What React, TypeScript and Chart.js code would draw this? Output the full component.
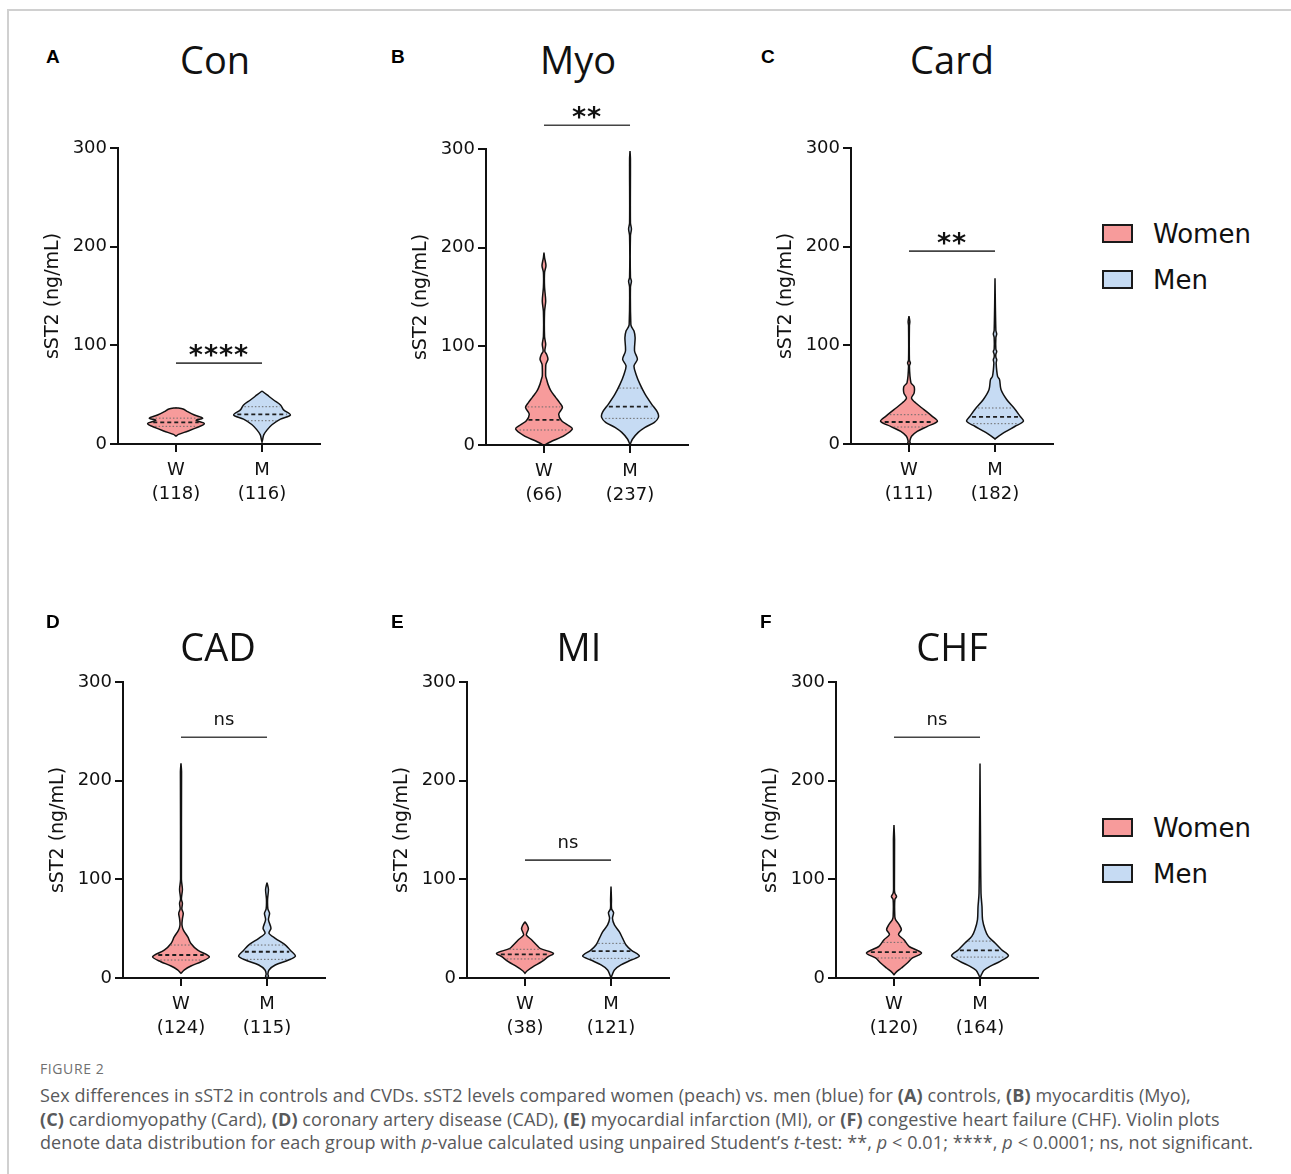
import React, { useEffect, useRef } from 'react';
import { Chart, registerables } from 'chart.js';

Chart.register(...registerables);

// ---------------- data ----------------
const groupLabels = ['W', 'M'];
const legendLabels = ['Women', 'Men'];
const panelLetters = ['A', 'B', 'C', 'D', 'E', 'F'];
const panelTitles = ['Con', 'Myo', 'Card', 'CAD', 'MI', 'CHF'];
const womenN = [118, 66, 111, 124, 38, 120];
const menN = [116, 237, 182, 115, 121, 164];
const sigText = ['****', '**', '**', 'ns', 'ns', 'ns'];
const sigLevel = [82, 324, 195.5, 244, 119.5, 244];
const yTickValues = [0, 100, 200, 300];

// violin profiles: sST2 level (ng/mL) from top to bottom, relative half-width, quartiles [Q3, median, Q1]
const conWomenY = [36.8, 35.5, 32.8, 29.4, 26.2, 24.0, 20.6, 16.3, 13.0, 9.7, 8.0];
const conWomenW = [0, 0.25, 0.41, 0.65, 0.94, 0.71, 1.0, 0.71, 0.41, 0.09, 0];
const conWomenQ = [26.2, 21.9, 17.9];
const conMenY = [53.7, 49.7, 44.6, 39.6, 34.6, 29.4, 25.2, 19.5, 14.3, 9.3, 4.2, 2];
const conMenW = [0, 0.18, 0.41, 0.65, 0.76, 1.0, 0.65, 0.35, 0.18, 0.06, 0.02, 0];
const conMenQ = [37.8, 30.1, 23.6];

const myoWomenY = [195, 190, 181.6, 175, 160, 146, 135, 110, 102, 95, 92, 87, 82, 78.6, 70, 66.8, 61.7, 55, 48.3, 43, 38, 31.4, 24.6, 20, 16.2, 9.5, 4, 0.7, 0];
const myoWomenW = [0, 0.02, 0.07, 0.02, 0.02, 0.06, 0.02, 0.02, 0.06, 0.03, 0.09, 0.14, 0.07, 0.06, 0.06, 0.09, 0.14, 0.24, 0.41, 0.55, 0.65, 0.52, 0.62, 0.85, 1.0, 0.71, 0.29, 0.06, 0];
const myoWomenQ = [38.6, 25.4, 15.2];
const myoMenY = [298, 290, 225, 219, 212, 170, 166, 160, 122, 118.9, 115.5, 108.8, 95.3, 87, 80.2, 71.8, 61.7, 51.6, 41.5, 33.1, 28, 23, 17.9, 12.8, 6.1, 1.7, 0];
const myoMenW = [0, 0.015, 0.015, 0.05, 0.015, 0.015, 0.05, 0.015, 0.03, 0.07, 0.14, 0.18, 0.16, 0.26, 0.14, 0.21, 0.35, 0.53, 0.76, 0.97, 1.0, 0.86, 0.53, 0.29, 0.09, 0.02, 0];
const myoMenQ = [57.7, 38.8, 27.0];

const cardWomenY = [129.7, 124, 120, 85, 82, 79, 62, 58.3, 51.6, 46.6, 41.5, 34.8, 28, 23, 17.9, 12.8, 7.8, 3, 1, 0];
const cardWomenW = [0, 0.03, 0.015, 0.015, 0.05, 0.015, 0.07, 0.18, 0.18, 0.09, 0.24, 0.53, 0.82, 1.0, 0.65, 0.29, 0.09, 0.03, 0.04, 0];
const cardWomenQ = [29.7, 22.3, 17.2];
const cardMenY = [168, 115, 111.5, 108, 96, 93.8, 91, 88, 85.4, 82, 68.6, 65.3, 55.2, 45.1, 35, 28.2, 23.1, 18, 13, 7.8, 5];
const cardMenW = [0, 0.03, 0.06, 0.03, 0.03, 0.06, 0.03, 0.03, 0.06, 0.04, 0.09, 0.16, 0.21, 0.41, 0.71, 0.88, 1.0, 0.71, 0.41, 0.12, 0];
const cardMenQ = [36.5, 27.4, 20.6];

const cadWomenY = [217.5, 209, 100, 89.8, 80, 75.7, 70, 65.6, 60, 53.7, 48.3, 41.6, 35, 28.2, 21.5, 16.5, 12.2, 8.2, 4.8];
const cadWomenW = [0, 0.02, 0.015, 0.05, 0.015, 0.05, 0.03, 0.08, 0.05, 0.035, 0.09, 0.24, 0.35, 0.59, 1.0, 0.71, 0.35, 0.12, 0];
const cadWomenQ = [33.4, 23.3, 18.2];
const cadMenY = [96.6, 89.8, 80, 70, 65.6, 59, 50.5, 45.3, 40.2, 33.4, 28.2, 22.2, 18.2, 13.2, 8.2, 4, 1.5, 0];
const cadMenW = [0, 0.05, 0.02, 0.03, 0.09, 0.05, 0.14, 0.07, 0.29, 0.65, 0.82, 1.0, 0.76, 0.29, 0.07, 0.03, 0.05, 0];
const cadMenQ = [33.4, 26.6, 18.9];

const miWomenY = [57, 53, 49.6, 46, 43.5, 38.5, 33.4, 30, 25, 21.6, 16.5, 11.5, 7.1, 4.8];
const miWomenW = [0, 0.09, 0.12, 0.07, 0.05, 0.24, 0.41, 0.53, 1.0, 0.82, 0.59, 0.29, 0.07, 0];
const miWomenQ = [29.1, 24.0, 19.3];
const miMenY = [92.6, 80, 70, 66.2, 60.5, 53.8, 47, 40.2, 33.4, 28.3, 22.2, 18.2, 13.2, 8.2, 3.1, 0];
const miMenW = [0, 0.015, 0.02, 0.09, 0.05, 0.12, 0.29, 0.41, 0.53, 0.71, 1.0, 0.71, 0.35, 0.12, 0.04, 0];
const miMenQ = [35.1, 27.3, 19.9];

const chfWomenY = [155, 140, 90, 86, 82.7, 79.3, 62, 59, 54.1, 49, 44, 38.8, 32.1, 25.3, 20.3, 15.2, 10.1, 5.7, 3.4];
const chfWomenW = [0, 0.02, 0.015, 0.03, 0.09, 0.03, 0.03, 0.06, 0.18, 0.26, 0.16, 0.35, 0.53, 0.97, 0.65, 0.47, 0.26, 0.07, 0];
const chfWomenQ = [36.1, 26.3, 20.3];
const chfMenY = [217.5, 150, 86, 72.3, 59, 49, 42.2, 35.4, 28.7, 22.7, 16.9, 11.8, 7.8, 3.4, 0];
const chfMenW = [0, 0.015, 0.035, 0.07, 0.09, 0.18, 0.29, 0.53, 0.76, 1.0, 0.71, 0.35, 0.14, 0.05, 0];
const chfMenQ = [37.4, 28.0, 21.2];

const violins = [
  [[conWomenY, conWomenW, conWomenQ], [conMenY, conMenW, conMenQ]],
  [[myoWomenY, myoWomenW, myoWomenQ], [myoMenY, myoMenW, myoMenQ]],
  [[cardWomenY, cardWomenW, cardWomenQ], [cardMenY, cardMenW, cardMenQ]],
  [[cadWomenY, cadWomenW, cadWomenQ], [cadMenY, cadMenW, cadMenQ]],
  [[miWomenY, miWomenW, miWomenQ], [miMenY, miMenW, miMenQ]],
  [[chfWomenY, chfWomenW, chfWomenQ], [chfMenY, chfMenW, chfMenQ]],
];

// ---------------- styles / layout ----------------
const FILL = ['#F79B9B', '#C6DBF3'];
const HALF = 0.33;
const CW = 312;
const CH = 426;
const PAD_TOP = 60;
const Y_AXIS_W = 100;
const X_AXIS_H = 70;

const panelPos = [
  { axisLeft: 118, top: 148, letterX: 46, letterY: 63, titleX: 215, titleY: 74 },
  { axisLeft: 486, top: 149, letterX: 391, letterY: 63, titleX: 578, titleY: 74 },
  { axisLeft: 851, top: 148, letterX: 761, letterY: 63, titleX: 952, titleY: 74 },
  { axisLeft: 123, top: 682, letterX: 46, letterY: 628, titleX: 218, titleY: 661 },
  { axisLeft: 467, top: 682, letterX: 391, letterY: 628, titleX: 579, titleY: 661 },
  { axisLeft: 836, top: 682, letterX: 760, letterY: 628, titleX: 952, titleY: 661 },
];

function widthAt(ys: number[], ws: number[], v: number): number {
  for (let k = 0; k < ys.length - 1; k++) {
    if (ys[k] >= v && v >= ys[k + 1]) {
      const t = (ys[k] - v) / (ys[k] - ys[k + 1] || 1);
      return ws[k] + t * (ws[k + 1] - ws[k]);
    }
  }
  return 0;
}

function buildDatasets(i: number) {
  const ds: any[] = [];
  violins[i].forEach((v, g) => {
    const [ys, ws, qs] = v as [number[], number[], number[]];
    const c = g + 1;
    const poly = [
      ...ys.map((y, k) => ({ x: c - ws[k] * HALF, y })),
      ...ys.map((y, k) => ({ x: c + ws[k] * HALF, y })).reverse(),
    ];
    ds.push({
      data: poly,
      showLine: true,
      fill: 'shape',
      tension: 0.3,
      backgroundColor: FILL[g],
      borderColor: '#111',
      borderWidth: 1.5,
      pointRadius: 0,
      order: 3,
    });
    qs.forEach((q, k) => {
      const hw = widthAt(ys, ws, q) * HALF * 0.9;
      ds.push({
        data: [{ x: c - hw, y: q }, { x: c + hw, y: q }],
        showLine: true,
        fill: false,
        borderColor: k === 1 ? '#1e1e1e' : '#6a6a6a',
        borderWidth: k === 1 ? 1.8 : 1,
        borderDash: k === 1 ? [4, 3] : [1.5, 2],
        pointRadius: 0,
        order: 1,
      });
    });
  });
  ds.push({
    data: [{ x: 1, y: sigLevel[i] }, { x: 2, y: sigLevel[i] }],
    showLine: true,
    fill: false,
    borderColor: '#444',
    borderWidth: 1.6,
    pointRadius: 0,
    clip: false,
    order: 0,
  });
  return ds;
}

function ViolinPanel({ i }: { i: number }) {
  const ref = useRef<HTMLCanvasElement>(null);
  useEffect(() => {
    if (!ref.current) return;
    const axisStyle = {
      grid: { display: true, drawOnChartArea: false, drawTicks: true, tickLength: 8, tickWidth: 2, lineWidth: 2, tickColor: '#111', color: '#111' },
      border: { display: true, color: '#111', width: 2 },
    };
    const sigPlugin = {
      id: 'sigText',
      afterDatasetsDraw(chart: any) {
        const { ctx } = chart;
        const px = chart.scales.x.getPixelForValue(1.5);
        const py = chart.scales.y.getPixelForValue(sigLevel[i]);
        ctx.save();
        ctx.fillStyle = '#111';
        ctx.textAlign = 'center';
        ctx.textBaseline = 'alphabetic';
        if (sigText[i] === 'ns') {
          ctx.font = '18px "DejaVu Sans"';
          ctx.fillText(sigText[i], px, py - 12);
        } else {
          ctx.font = 'bold 27px "DejaVu Sans"';
          try { (ctx as any).letterSpacing = '1px'; } catch (e) {}
          ctx.fillText(sigText[i], px, py + 1);
        }
        ctx.restore();
      },
    };
    const chart = new Chart(ref.current, {
      type: 'scatter',
      data: { datasets: buildDatasets(i) },
      options: {
        responsive: false,
        animation: false,
        events: [],
        layout: { padding: { top: PAD_TOP, left: 0, right: 10, bottom: 0 } },
        plugins: { legend: { display: false }, tooltip: { enabled: false }, title: { display: false } },
        scales: {
          x: {
            type: 'linear',
            min: 0.326,
            max: 2.674,
            afterBuildTicks: (s: any) => { s.ticks = [1, 2].map((v) => ({ value: v })); },
            afterFit: (s: any) => { s.height = X_AXIS_H; },
            ...axisStyle,
            ticks: {
              padding: 6,
              color: '#111',
              autoSkip: false,
              maxRotation: 0,
              font: { size: 18, family: 'DejaVu Sans', lineHeight: 1.333 },
              callback: (v: any) => (v === 1 ? [groupLabels[0], `(${womenN[i]})`] : [groupLabels[1], `(${menN[i]})`]),
            },
          },
          y: {
            type: 'linear',
            min: 0,
            max: 300,
            afterBuildTicks: (s: any) => { s.ticks = yTickValues.map((v) => ({ value: v })); },
            afterFit: (s: any) => { s.width = Y_AXIS_W; },
            ...axisStyle,
            ticks: { padding: 3, color: '#111', font: { size: 18, family: 'DejaVu Sans' } },
            title: {
              display: true,
              text: 'sST2 (ng/mL)',
              color: '#111',
              font: { size: 19, family: 'DejaVu Sans' },
              padding: { top: 24, bottom: 0 },
            },
          },
        },
      } as any,
      plugins: [sigPlugin],
    });
    return () => chart.destroy();
  }, [i]);
  const p = panelPos[i];
  return (
    <canvas
      ref={ref}
      width={CW}
      height={CH}
      style={{ position: 'absolute', left: p.axisLeft - Y_AXIS_W, top: p.top - PAD_TOP, width: CW, height: CH }}
    />
  );
}

function Legend({ top }: { top: number }) {
  return (
    <>
      {legendLabels.map((lab, k) => {
        const cy = top + k * 46;
        return (
          <React.Fragment key={lab}>
            <div style={{ position: 'absolute', left: 1102, top: cy - 9.5, width: 31, height: 19, boxSizing: 'border-box', border: '2px solid #1a1a1a', background: FILL[k] }} />
            <div style={{ position: 'absolute', left: 1153, top: cy + 9.5 - 22, font: '26px "DejaVu Sans"', lineHeight: '26px', color: '#111', whiteSpace: 'nowrap' }}>{lab}</div>
          </React.Fragment>
        );
      })}
    </>
  );
}

export default function App() {
  return (
    <div style={{ position: 'absolute', left: 0, top: 0, width: 1291, height: 1174, background: '#fff', overflow: 'hidden' }}>
      <div style={{ position: 'absolute', left: 7, top: 9, width: 1300, height: 1200, borderTop: '2px solid #d0d0d0', borderLeft: '2px solid #d0d0d0' }} />
      {panelPos.map((p, i) => (
        <ViolinPanel key={i} i={i} />
      ))}
      {panelPos.map((p, i) => (
        <React.Fragment key={'t' + i}>
          <div style={{ position: 'absolute', left: p.letterX, top: p.letterY - 16.1, font: 'bold 19px "Liberation Sans"', lineHeight: '19px', color: '#000' }}>{panelLetters[i]}</div>
          <div style={{ position: 'absolute', left: p.titleX, top: p.titleY - 33.7, transform: 'translateX(-50%)', font: '38px "Open Sans"', lineHeight: '38px', color: '#111', whiteSpace: 'nowrap' }}>{panelTitles[i]}</div>
        </React.Fragment>
      ))}
      <Legend top={233} />
      <Legend top={827} />
      <div style={{ position: 'absolute', left: 40, top: 1061, font: '14px "Open Sans"', lineHeight: '16px', color: '#707070', letterSpacing: '0.6px' }}>FIGURE 2</div>
      <div style={{ position: 'absolute', left: 40, top: 1084, font: '18px "Open Sans"', lineHeight: '23.5px', color: '#58595b', whiteSpace: 'nowrap', letterSpacing: '0.1px' }}>
        Sex differences in sST2 in controls and CVDs. sST2 levels compared women (peach) vs. men (blue) for <b>(A)</b> controls, <b>(B)</b> myocarditis (Myo),
        <br />
        <b>(C)</b> cardiomyopathy (Card), <b>(D)</b> coronary artery disease (CAD), <b>(E)</b> myocardial infarction (MI), or <b>(F)</b> congestive heart failure (CHF). Violin plots
        <br />
        denote data distribution for each group with <i>p</i>-value calculated using unpaired Student’s <i>t</i>-test: **, <i>p</i> &lt; 0.01; ****, <i>p</i> &lt; 0.0001; ns, not significant.
      </div>
    </div>
  );
}
